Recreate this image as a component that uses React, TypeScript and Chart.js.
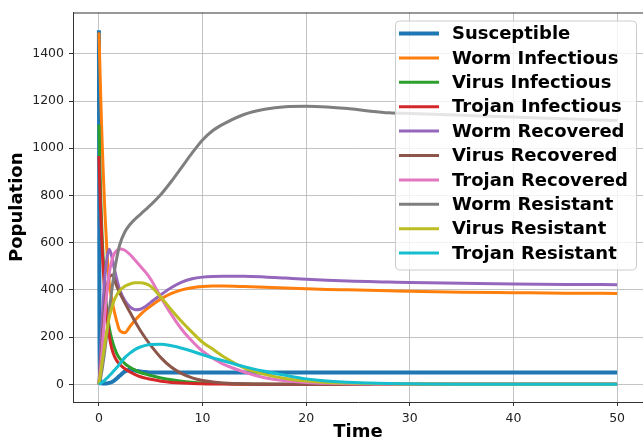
import React, { useEffect, useRef } from "react";
import { Chart, registerables } from "chart.js";

Chart.register(...registerables);

// Time samples
const T = [0, 0.05, 0.1, 0.2, 0.3, 0.4, 0.5, 0.6, 0.8, 1, 1.25, 1.5, 1.75, 2, 2.5, 3, 3.5, 4, 4.5, 5, 6, 7, 8, 9, 10, 11, 12, 14, 16, 18, 20, 22, 24, 26, 28, 30, 35, 40, 45, 50];

const SUSCEPTIBLE = [1500, 300, 40, 8, 4, 3, 3, 3, 4, 6, 10, 17, 26, 36, 54, 62, 58, 54, 52, 50, 50, 50, 50, 50, 50, 50, 50, 50, 50, 50, 50, 50, 50, 50, 50, 50, 50, 50, 50, 50];
const WORM_INF = [1490, 1420, 1340, 1180, 1040, 920, 810, 710, 545, 430, 360, 305, 262, 228, 218, 245, 272, 295, 315, 332, 362, 385, 400, 409, 414, 416, 416, 414, 411, 408, 405, 402, 400, 398, 396, 394, 390, 388, 386, 385];
const VIRUS_INF = [1100, 1000, 910, 760, 640, 545, 465, 400, 305, 240, 190, 155, 128, 110, 88, 72, 60, 50, 43, 37, 27, 19, 13, 9, 6, 4, 3, 1, 0, 0, 0, 0, 0, 0, 0, 0, 0, 0, 0, 0];
const TROJAN_INF = [967, 890, 820, 700, 590, 500, 425, 365, 275, 205, 150, 118, 98, 85, 66, 52, 41, 32, 26, 21, 13, 8, 5, 3, 2, 1, 1, 0, 0, 0, 0, 0, 0, 0, 0, 0, 0, 0, 0, 0];
const WORM_REC = [0, 45, 90, 180, 265, 340, 410, 465, 540, 572, 540, 487, 440, 402, 355, 328, 316, 318, 330, 347, 380, 410, 433, 447, 454, 457, 458, 458, 455, 450, 445, 441, 438, 435, 433, 431, 428, 425, 423, 422];
const VIRUS_REC = [0, 30, 60, 120, 180, 240, 295, 345, 415, 455, 463, 442, 412, 388, 345, 305, 265, 228, 195, 165, 112, 72, 45, 27, 16, 10, 6, 2, 1, 0, 0, 0, 0, 0, 0, 0, 0, 0, 0, 0];
const TROJAN_REC = [0, 20, 40, 90, 145, 200, 255, 310, 400, 470, 525, 555, 568, 573, 568, 550, 525, 500, 475, 445, 367, 295, 232, 182, 140, 110, 85, 52, 28, 15, 8, 4, 2, 1, 0, 0, 0, 0, 0, 0];
const WORM_RES = [0, 7, 15, 35, 60, 90, 120, 155, 225, 310, 400, 480, 540, 590, 645, 677, 700, 720, 740, 760, 805, 860, 920, 980, 1035, 1075, 1102, 1143, 1165, 1176, 1178, 1175, 1168, 1158, 1150, 1147, 1140, 1132, 1125, 1117];
const VIRUS_RES = [0, 15, 30, 60, 90, 120, 150, 180, 235, 285, 325, 358, 380, 396, 415, 425, 430, 430, 426, 415, 368, 315, 265, 220, 178, 148, 118, 70, 42, 25, 14, 8, 5, 3, 2, 1, 0, 0, 0, 0];
const TROJAN_RES = [0, 1, 2, 5, 8, 11, 15, 19, 27, 36, 48, 60, 72, 86, 113, 132, 148, 158, 165, 169, 170, 163, 153, 140, 125, 112, 100, 75, 55, 38, 23, 14, 9, 5, 3, 2, 0, 0, 0, 0];

const LABELS = ["Susceptible", "Worm Infectious", "Virus Infectious", "Trojan Infectious", "Worm Recovered", "Virus Recovered", "Trojan Recovered", "Worm Resistant", "Virus Resistant", "Trojan Resistant"];
const SERIES = [SUSCEPTIBLE, WORM_INF, VIRUS_INF, TROJAN_INF, WORM_REC, VIRUS_REC, TROJAN_REC, WORM_RES, VIRUS_RES, TROJAN_RES];
const COLORS = ["#1f77b4", "#ff7f0e", "#2ca02c", "#d62728", "#9467bd", "#8c564b", "#e377c2", "#7f7f7f", "#bcbd22", "#17becf"];
const WIDTHS = [4, 3, 3, 3, 3, 3, 3, 3, 3, 3];

const X_TICKS = [0, 10, 20, 30, 40, 50];
const Y_TICKS = [0, 200, 400, 600, 800, 1000, 1200, 1400];

const FONT = "'DejaVu Sans', sans-serif";

const framePlugin = {
  id: "frameAndLegend",
  afterDatasetsDraw(chart: any) {
    const { ctx, chartArea } = chart;
    ctx.save();
    ctx.strokeStyle = "#333";
    ctx.lineWidth = 1;
    ctx.beginPath();
    ctx.moveTo(chartArea.left, chartArea.top + 0.5);
    ctx.lineTo(chartArea.right, chartArea.top + 0.5);
    ctx.stroke();
    ctx.restore();
  },
  afterDraw(chart: any) {
    const { ctx, chartArea } = chart;
    const left = chartArea.right - 248;
    const top = chartArea.top + 8;
    const w = 241;
    const h = 249;
    ctx.save();
    ctx.beginPath();
    if (ctx.roundRect) ctx.roundRect(left + 0.5, top + 0.5, w, h, 4);
    else ctx.rect(left + 0.5, top + 0.5, w, h);
    ctx.fillStyle = "rgba(255,255,255,0.8)";
    ctx.fill();
    ctx.strokeStyle = "#cccccc";
    ctx.lineWidth = 1;
    ctx.stroke();
    chart.data.datasets.forEach((ds: any, i: number) => {
      const y = top + 13 + i * 24.4;
      ctx.strokeStyle = ds.borderColor;
      ctx.lineWidth = ds.borderWidth;
      ctx.beginPath();
      ctx.moveTo(left + 4, y);
      ctx.lineTo(left + 44, y);
      ctx.stroke();
      ctx.fillStyle = "#000";
      ctx.font = `bold 18px ${FONT}`;
      ctx.textBaseline = "middle";
      ctx.textAlign = "left";
      ctx.fillText(ds.label, left + 57, y + 1);
    });
    ctx.restore();
  },
};

export default function App() {
  const ref = useRef<HTMLCanvasElement | null>(null);
  useEffect(() => {
    if (!ref.current) return;
    Chart.defaults.font.family = FONT;
    const datasets = SERIES.map((arr, i) => ({
      label: LABELS[i],
      data: T.map((t, j) => ({ x: t, y: arr[j] })),
      borderColor: COLORS[i],
      backgroundColor: COLORS[i],
      borderWidth: WIDTHS[i],
      pointRadius: 0,
      cubicInterpolationMode: "monotone" as const,
      fill: false,
      order: SERIES.length - i,
    }));
    const chart = new Chart(ref.current, {
      type: "line",
      data: { datasets },
      options: {
        animation: false,
        responsive: false,
        devicePixelRatio: 1,
        layout: { padding: { top: 10, right: 0, left: 0, bottom: 0 } },
        plugins: { legend: { display: false }, tooltip: { enabled: false } },
        scales: {
          x: {
            type: "linear",
            min: -2.5,
            max: 52.5,
            afterFit: (s: any) => { s.height = 39; },
            afterBuildTicks: (s: any) => { s.ticks = X_TICKS.map((v) => ({ value: v })); },
            ticks: { color: "#222", font: { size: 12.5 }, padding: 5, callback: (v: any) => String(v), maxRotation: 0 },
            grid: { color: "rgba(176,176,176,0.75)", lineWidth: 1, tickLength: 4, tickColor: "#333", drawTicks: true },
            border: { display: true, color: "#333", width: 1 },
            title: { display: true, text: "Time", color: "#000", font: { size: 18, weight: "bold", lineHeight: 1 }, padding: 0 },
          },
          y: {
            type: "linear",
            min: -75,
            max: 1575,
            afterFit: (s: any) => { s.width = 73; },
            afterBuildTicks: (s: any) => { s.ticks = Y_TICKS.map((v) => ({ value: v })); },
            ticks: { color: "#222", font: { size: 12.5 }, padding: 5, callback: (v: any) => String(v) },
            grid: { color: "rgba(176,176,176,0.75)", lineWidth: 1, tickLength: 4, tickColor: "#333", drawTicks: true },
            border: { display: true, color: "#333", width: 1 },
            title: { display: true, text: "Population", color: "#000", font: { size: 18, weight: "bold", lineHeight: 1 }, padding: { top: 8, bottom: 0 } },
          },
        },
      },
      plugins: [framePlugin],
    });
    return () => chart.destroy();
  }, []);
  return (
    <div style={{ position: "absolute", left: 0, top: 0, width: 643, height: 441, overflow: "hidden", background: "#fff" }}>
      <canvas ref={ref} width={643} height={441} style={{ display: "block", width: 643, height: 441 }} />
    </div>
  );
}
